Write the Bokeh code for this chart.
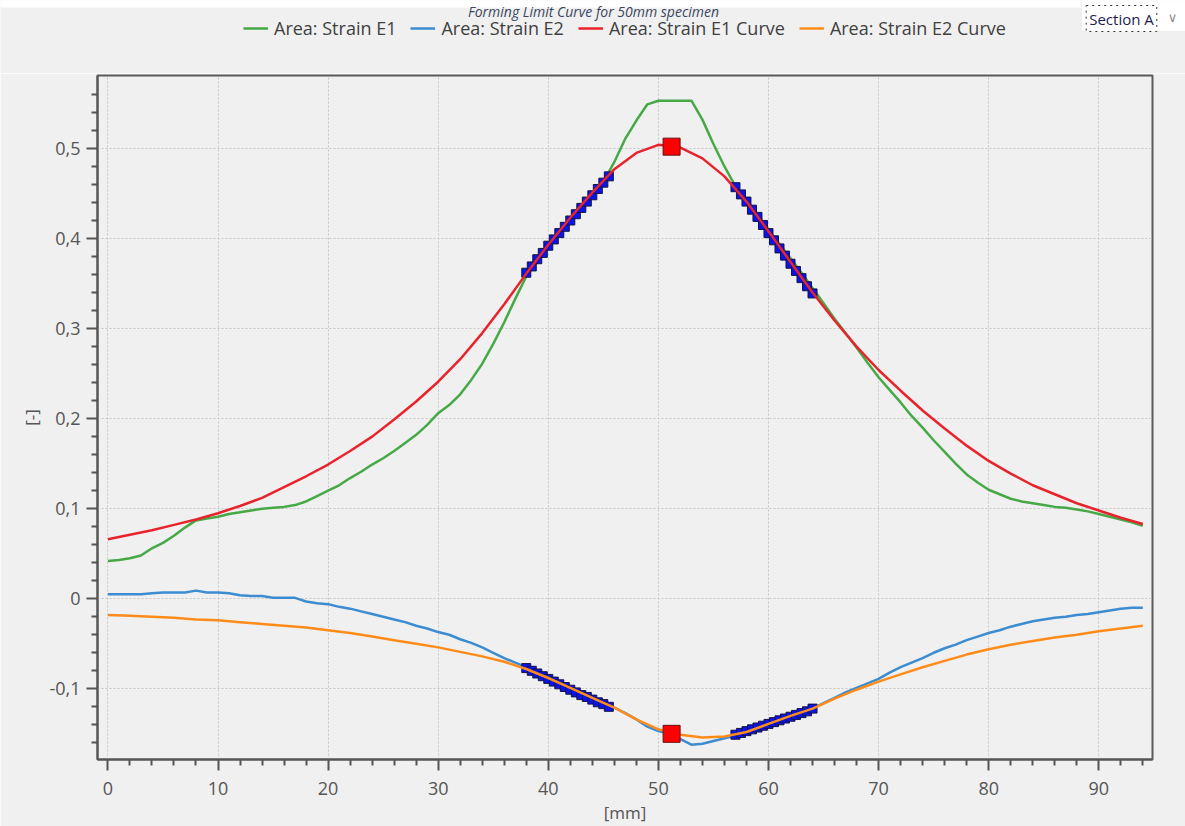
from bokeh.plotting import figure
from bokeh.layouts import column
from bokeh.models import (FixedTicker, CustomJSTickFormatter, Legend, LegendItem,
                          Label, BoxAnnotation, Range1d)
from bokeh.embed import file_html
from bokeh.resources import INLINE

# ---------------- data ----------------
strain_x = [0, 1, 2, 3, 4, 5, 6, 7, 8, 9, 10, 11, 12, 13, 14, 15, 16, 17, 18, 19,
            20, 21, 22, 23, 24, 25, 26, 27, 28, 29, 30, 31, 32, 33, 34, 35, 36, 37, 38, 39,
            40, 41, 42, 43, 44, 45, 46, 47, 48, 49, 50, 51, 52, 53, 54, 55, 56, 57, 58, 59,
            60, 61, 62, 63, 64, 65, 66, 67, 68, 69, 70, 71, 72, 73, 74, 75, 76, 77, 78, 79,
            80, 81, 82, 83, 84, 85, 86, 87, 88, 89, 90, 91, 92, 93, 94]

strain_e1 = [0.042, 0.043, 0.045, 0.048, 0.056, 0.062, 0.070, 0.079, 0.087, 0.089,
             0.091, 0.094, 0.096, 0.098, 0.100, 0.101, 0.102, 0.104, 0.108, 0.114,
             0.120, 0.126, 0.134, 0.141, 0.149, 0.156, 0.164, 0.173, 0.182, 0.193,
             0.206, 0.215, 0.227, 0.243, 0.261, 0.283, 0.307, 0.333, 0.358, 0.374,
             0.390, 0.405, 0.420, 0.434, 0.449, 0.463, 0.485, 0.511, 0.531, 0.549,
             0.553, 0.553, 0.553, 0.553, 0.532, 0.505, 0.480, 0.458, 0.443, 0.427,
             0.410, 0.394, 0.378, 0.362, 0.345, 0.328, 0.311, 0.295, 0.279, 0.262,
             0.246, 0.232, 0.218, 0.203, 0.190, 0.176, 0.163, 0.150, 0.138, 0.129,
             0.121, 0.116, 0.111, 0.108, 0.106, 0.104, 0.102, 0.101, 0.099, 0.097,
             0.094, 0.091, 0.088, 0.085, 0.081]

strain_e2 = [0.005, 0.005, 0.005, 0.005, 0.006, 0.007, 0.007, 0.007, 0.009, 0.007,
             0.007, 0.006, 0.004, 0.003, 0.003, 0.001, 0.001, 0.001, -0.003, -0.005,
             -0.006, -0.009, -0.011, -0.014, -0.017, -0.020, -0.023, -0.026, -0.030, -0.033,
             -0.037, -0.040, -0.045, -0.049, -0.054, -0.060, -0.066, -0.071, -0.076, -0.081,
             -0.087, -0.092, -0.098, -0.104, -0.109, -0.115, -0.121, -0.127, -0.134, -0.142,
             -0.147, -0.150, -0.156, -0.162, -0.161, -0.158, -0.155, -0.152, -0.148, -0.144,
             -0.140, -0.136, -0.131, -0.127, -0.122, -0.116, -0.110, -0.104, -0.099, -0.094,
             -0.089, -0.082, -0.076, -0.071, -0.066, -0.060, -0.055, -0.051, -0.046, -0.042,
             -0.038, -0.035, -0.031, -0.028, -0.025, -0.023, -0.021, -0.020, -0.018, -0.017,
             -0.015, -0.013, -0.011, -0.010, -0.010]

curve_x = [0, 2, 4, 6, 8, 10, 12, 14, 16, 18, 20, 22, 24, 26, 28, 30, 32, 34, 36, 38,
           40, 42, 44, 46, 48, 50, 52, 54, 56, 58, 60, 62, 64, 66, 68, 70, 72, 74, 76, 78,
           80, 82, 84, 86, 88, 90, 92, 94]

curve_e1 = [0.066, 0.071, 0.076, 0.082, 0.088, 0.095, 0.103, 0.112, 0.124, 0.136,
            0.149, 0.164, 0.180, 0.199, 0.219, 0.241, 0.266, 0.295, 0.327, 0.361,
            0.393, 0.423, 0.451, 0.477, 0.495, 0.504, 0.501, 0.489, 0.469, 0.441,
            0.408, 0.374, 0.340, 0.309, 0.280, 0.254, 0.231, 0.209, 0.189, 0.170,
            0.153, 0.139, 0.126, 0.116, 0.106, 0.098, 0.090, 0.083]

curve_e2 = [-0.018, -0.019, -0.020, -0.021, -0.023, -0.024, -0.026, -0.028, -0.030, -0.032,
            -0.035, -0.038, -0.042, -0.046, -0.050, -0.054, -0.059, -0.064, -0.070, -0.078,
            -0.088, -0.099, -0.110, -0.121, -0.134, -0.145, -0.151, -0.154, -0.153, -0.148,
            -0.139, -0.130, -0.122, -0.111, -0.101, -0.092, -0.084, -0.076, -0.069, -0.062,
            -0.056, -0.051, -0.047, -0.043, -0.040, -0.036, -0.033, -0.030]

fit_x = [38.0, 38.5, 39.0, 39.5, 40.0, 40.5, 41.0, 41.5, 42.0, 42.5, 43.0, 43.5, 44.0, 44.5, 45.0, 45.5,
         57.0, 57.5, 58.0, 58.5, 59.0, 59.5, 60.0, 60.5, 61.0, 61.5, 62.0, 62.5, 63.0, 63.5, 64.0]

fit_e1 = [0.362, 0.369, 0.377, 0.384, 0.392, 0.399, 0.406, 0.413, 0.420, 0.427, 0.434, 0.441,
          0.448, 0.455, 0.462, 0.469,
          0.457, 0.449, 0.441, 0.432, 0.424, 0.415, 0.406, 0.398, 0.389, 0.381, 0.372, 0.364,
          0.356, 0.347, 0.339]

fit_e2 = [-0.077, -0.080, -0.083, -0.086, -0.089, -0.092, -0.095, -0.098, -0.101, -0.104,
          -0.107, -0.109, -0.112, -0.115, -0.117, -0.120,
          -0.151, -0.149, -0.147, -0.145, -0.143, -0.141, -0.139, -0.137, -0.135, -0.133,
          -0.131, -0.129, -0.127, -0.125, -0.122]

peak_x = [51.2, 51.2]
peak_y = [0.502, -0.150]

x_ticks = [0, 10, 20, 30, 40, 50, 60, 70, 80, 90]
x_minor_ticks = [2, 4, 6, 8, 12, 14, 16, 18, 22, 24, 26, 28, 32, 34, 36, 38, 42, 44, 46, 48,
                 52, 54, 56, 58, 62, 64, 66, 68, 72, 74, 76, 78, 82, 84, 86, 88, 92, 94]
y_ticks = [-0.1, 0.0, 0.1, 0.2, 0.3, 0.4, 0.5]
y_tick_labels = ["-0,1", "0", "0,1", "0,2", "0,3", "0,4", "0,5"]
y_minor_ticks = [-0.16, -0.14, -0.12, -0.08, -0.06, -0.04, -0.02, 0.02, 0.04, 0.06, 0.08,
                 0.12, 0.14, 0.16, 0.18, 0.22, 0.24, 0.26, 0.28, 0.32, 0.34, 0.36, 0.38,
                 0.42, 0.44, 0.46, 0.48, 0.52, 0.54, 0.56]

series_labels = ["Area: Strain E1", "Area: Strain E2", "Area: Strain E1 Curve", "Area: Strain E2 Curve"]
title_text = "Forming Limit Curve for 50mm specimen"
section_text = "Section A"
x_label = "[mm]"
y_label = "[-]"

# ---------------- styling ----------------
FONT = "Open Sans"
GREEN = "#46a946"
BLUE = "#3b8cd0"
RED = "#e8232b"
ORANGE = "#ff8c1a"
AXIS = "#555555"
BG = "#f0f0f0"
W = 1185
HEAD_H = 73
MAIN_H = 753

# ---------------- main chart ----------------
p = figure(width=W, height=MAIN_H, title=None,
           x_range=Range1d(-0.945, 94.88), y_range=Range1d(-0.1785, 0.581),
           output_backend="svg", toolbar_location=None,
           min_border_left=97, min_border_right=33, min_border_top=2, min_border_bottom=63,
           background_fill_color=BG, border_fill_color=BG,
           outline_line_color="#5a5a5a", outline_line_width=2)

p.xaxis.ticker = FixedTicker(ticks=x_ticks, minor_ticks=x_minor_ticks)
p.yaxis.ticker = FixedTicker(ticks=y_ticks, minor_ticks=y_minor_ticks)
p.yaxis.formatter = CustomJSTickFormatter(args=dict(tvals=y_ticks, tlabels=y_tick_labels), code="""
let best = 0, bd = Infinity;
for (let i = 0; i < tvals.length; i++) { const d = Math.abs(tvals[i] - tick); if (d < bd) { bd = d; best = i; } }
return tlabels[best];
""")

for ax in (p.xaxis[0], p.yaxis[0]):
    ax.axis_line_color = AXIS
    ax.axis_line_width = 2
    ax.major_tick_line_color = AXIS
    ax.major_tick_line_width = 2
    ax.minor_tick_line_color = AXIS
    ax.minor_tick_line_width = 2
    ax.major_tick_in = 0
    ax.minor_tick_in = 0
    ax.major_tick_out = 11
    ax.minor_tick_out = 6
    ax.major_label_text_font = FONT
    ax.major_label_text_font_size = "18px"
    ax.major_label_text_color = AXIS
    ax.axis_label_text_font = FONT
    ax.axis_label_text_font_size = "17px"
    ax.axis_label_text_font_style = "normal"
    ax.axis_label_text_color = AXIS

p.xaxis.major_label_standoff = 11
p.yaxis.major_label_standoff = 6
p.xaxis.axis_label = x_label
p.xaxis.axis_label_standoff = 3
p.yaxis.axis_label = y_label
p.yaxis.axis_label_standoff = 3

for g in (p.xgrid[0], p.ygrid[0]):
    g.grid_line_color = "#c6c6c6"
    g.grid_line_dash = "2 2"
    g.grid_line_width = 1

line_kw = dict(line_width=2.5)
p.line(strain_x, strain_e1, line_color=GREEN, **line_kw)
p.line(strain_x, strain_e2, line_color=BLUE, **line_kw)
p.scatter(fit_x, fit_e1, marker="square", size=9, fill_color="#0a14e6", line_color="#141446", line_width=1)
p.scatter(fit_x, fit_e2, marker="square", size=9, fill_color="#0a14e6", line_color="#141446", line_width=1)
p.line(curve_x, curve_e1, line_color=RED, **line_kw)
p.line(curve_x, curve_e2, line_color=ORANGE, **line_kw)
p.scatter(peak_x, peak_y, marker="square", size=17, fill_color="#ff0000", line_color="#6a1010", line_width=1)

# ---------------- header strip: title, legend, section selector ----------------
# data coordinates of the header are page pixels (y grows downwards)
h = figure(width=W, height=HEAD_H, title=None, x_range=Range1d(0, W), y_range=Range1d(HEAD_H, 0),
           x_axis_type=None, y_axis_type=None, output_backend="svg", toolbar_location=None,
           min_border=0, min_border_left=0, min_border_right=0, min_border_top=0, min_border_bottom=0,
           background_fill_color=BG, border_fill_color=BG, outline_line_color=None)
h.xgrid.visible = False
h.ygrid.visible = False
for fig in (h, p):
    try:
        fig.frame_align = False
    except Exception:
        pass

# hidden copies of the four series, used only for the legend swatches
sw = [h.line(strain_x, strain_e1, line_color=GREEN, visible=False, **line_kw),
      h.line(strain_x, strain_e2, line_color=BLUE, visible=False, **line_kw),
      h.line(curve_x, curve_e1, line_color=RED, visible=False, **line_kw),
      h.line(curve_x, curve_e2, line_color=ORANGE, visible=False, **line_kw)]
legend = Legend(items=[LegendItem(label=lab, renderers=[r]) for lab, r in zip(series_labels, sw)],
                orientation="horizontal", location=(243, HEAD_H - 40),
                border_line_alpha=0, background_fill_alpha=0, padding=0, margin=0,
                spacing=14, glyph_width=25, glyph_height=24, label_height=24,
                label_standoff=6, label_text_font=FONT, label_text_font_size="18px",
                label_text_color="#404040", inactive_fill_alpha=0.0)
h.add_layout(legend)

# white strip along the top edge
h.add_layout(BoxAnnotation(left=-2, right=W + 2, top=-2, bottom=7,
                           fill_color="white", fill_alpha=1.0, line_color=None))

h.add_layout(Label(x=593, y=11, text=title_text,
                   text_align="center", text_baseline="alphabetic", text_font=FONT,
                   text_font_size="14px", text_font_style="italic", text_color="#3a4660"))

# "Section A" selector box
h.add_layout(BoxAnnotation(left=1081, right=W + 2, top=-2, bottom=31,
                           fill_color="white", fill_alpha=1.0,
                           line_color="#d4d4d4", line_width=1))
h.add_layout(Label(x=1121, y=18, text=section_text,
                   text_align="center", text_baseline="middle", text_font=FONT,
                   text_font_size="15px", text_color="#1c1c50",
                   background_fill_color="white", border_line_color="#333333",
                   border_line_dash="dotted", border_line_width=1, padding=3))
h.add_layout(Label(x=1172, y=17, text="\u2228",
                   text_align="center", text_baseline="middle", text_font="DejaVu Sans",
                   text_font_size="13px", text_color="#8a8a8a"))

layout = column(h, p, spacing=0)
open("out.html", "w").write(file_html(layout, INLINE))
